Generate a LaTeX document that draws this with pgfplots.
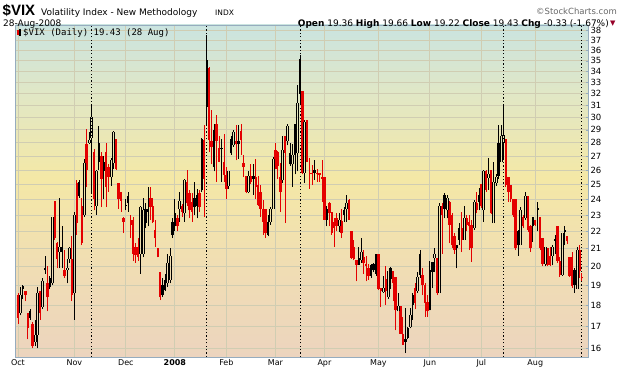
\documentclass[border=0pt]{standalone}
\usepackage{fontspec}
\setmainfont{DejaVu Sans}
\newfontfamily\mono{DejaVu Sans Mono}
\newfontfamily\arial{Liberation Sans}
\usepackage{pgfplots}
\pgfplotsset{compat=1.18}
\usepackage{pgfplotstable}

\definecolor{bgtop}{RGB}{202,228,224}
\definecolor{bggreen}{RGB}{226,231,196}
\definecolor{bgmid}{RGB}{244,232,166}
\definecolor{bgpeach}{RGB}{240,221,180}
\definecolor{bgbot}{RGB}{236,212,190}
\definecolor{gridc}{RGB}{208,205,178}
\definecolor{axc}{RGB}{150,172,190}
\definecolor{candred}{RGB}{228,0,0}
\definecolor{darkred}{RGB}{150,0,40}

\pgfdeclareverticalshading{vixbg}{100bp}{color(0bp)=(bgbot); color(25bp)=(bgbot); color(38bp)=(bgpeach); color(52bp)=(bgmid); color(64bp)=(bggreen); color(75bp)=(bgtop); color(100bp)=(bgtop)}

\pgfplotstableread[row sep=\\]{
i o h l c\\
0 18.5 18.6 17.1 17.4\\
3 18.7 18.7 18.2 18.5\\
4 17.6 17.6 16.4 16.9\\
6 17.1 17.2 16.0 16.1\\
9 18.7 18.7 17.3 17.6\\
12 19.1 20.0 17.7 18.4\\
15 23.9 23.9 21.5 21.6\\
16 21.3 21.4 19.9 20.4\\
19 19.8 20.9 19.4 19.5\\
22 20.4 21.7 18.2 18.5\\
24 25.1 25.3 21.8 22.5\\
26 23.6 24.1 21.2 21.3\\
28 27.9 29.1 24.8 26.0\\
31 27.3 27.5 23.3 24.0\\
34 27.0 27.3 23.5 25.4\\
36 27.3 28.0 23.5 24.85\\
37 26.2 26.4 24.5 25.5\\
40 28.3 28.3 26.0 26.1\\
41 25.1 25.1 23.4 24.0\\
42 24.5 24.5 23.2 23.9\\
43 22.8 22.9 21.9 22.6\\
46 22.7 23.0 21.6 22.4\\
47 22.7 22.9 20.3 20.7\\
48 21.1 21.3 20.2 20.65\\
49 21.1 21.6 20.3 20.5\\
54 24.1 24.85 22.7 23.5\\
55 23.6 24.1 22.5 22.6\\
56 22.1 22.7 21.1 21.6\\
57 21.0 21.0 20.5 20.5\\
58 19.7 19.7 18.25 18.4\\
65 22.8 23.0 22.0 22.3\\
67 23.6 23.7 22.9 23.2\\
69 25.2 26.0 23.6 23.75\\
70 24.4 24.6 22.8 23.3\\
71 23.85 24.4 22.6 23.2\\
74 24.4 24.6 23.2 23.5\\
76 28.2 29.4 22.9 25.4\\
78 34.3 34.4 27.3 28.2\\
79 28.1 30.6 26.4 27.7\\
81 29.5 30.2 25.2 28.1\\
82 27.6 28.5 26.6 26.6\\
84 26.6 28.7 25.2 25.65\\
85 25.65 26.2 24.0 24.7\\
89 28.1 29.4 26.7 27.9\\
91 28.9 29.5 27.1 28.2\\
92 26.5 27.1 25.5 26.2\\
93 25.55 25.6 24.4 24.5\\
95 25.55 26.4 25.05 25.2\\
97 25.5 26.8 24.0 24.8\\
98 24.95 25.6 23.55 23.65\\
99 24.5 24.95 22.9 23.4\\
100 23.4 23.95 21.8 22.6\\
101 23.4 23.4 21.6 21.9\\
105 27.45 28.0 26.1 26.1\\
106 27.3 27.4 25.4 26.3\\
107 25.5 26.5 23.2 24.5\\
109 28.5 28.5 22.5 27.2\\
116 32.2 32.2 25.7 25.8\\
118 29.8 29.8 26.6 26.6\\
119 25.8 26.9 24.7 25.7\\
120 25.8 26.35 24.95 25.7\\
122 25.8 26.1 25.2 25.7\\
123 25.8 25.8 25.2 25.65\\
124 25.5 26.7 23.85 25.4\\
125 25.5 25.5 22.7 22.7\\
127 23.75 23.85 22.3 23.1\\
128 23.2 23.2 21.8 21.9\\
129 22.6 22.8 21.1 22.2\\
130 22.8 23.1 22.0 22.3\\
132 22.65 23.4 21.6 21.9\\
135 23.95 24.0 22.7 22.7\\
136 22.0 22.0 20.4 20.45\\
137 21.1 21.5 20.35 20.4\\
138 20.35 20.35 19.2 20.1\\
141 20.5 20.9 19.6 20.2\\
142 20.15 20.6 19.2 20.0\\
143 19.9 20.15 19.3 19.5\\
147 20.7 20.7 18.75 18.8\\
148 18.85 18.85 17.9 18.7\\
150 19.35 20.0 18.0 18.7\\
153 19.75 19.75 18.2 19.1\\
154 19.45 19.45 16.8 17.75\\
156 17.95 17.95 16.65 16.65\\
157 16.65 17.45 16.15 16.15\\
162 18.85 19.1 17.8 18.1\\
165 19.55 19.9 18.5 19.0\\
166 19.0 19.1 17.45 18.1\\
167 18.15 18.5 17.45 17.7\\
171 20.45 20.45 18.5 18.6\\
173 23.55 23.75 20.7 23.0\\
176 23.85 23.9 21.3 22.4\\
177 23.0 23.1 21.0 21.2\\
178 21.7 21.9 20.7 20.9\\
181 22.2 23.2 20.8 21.5\\
183 22.8 23.0 22.0 22.4\\
184 22.6 23.0 20.9 22.3\\
185 22.4 22.7 20.25 21.0\\
187 23.75 24.5 23.1 23.3\\
189 25.05 25.05 23.45 23.55\\
191 25.9 26.0 24.5 24.65\\
193 26.0 26.0 23.05 23.1\\
199 28.3 28.3 24.85 24.95\\
200 25.5 25.5 23.85 24.5\\
201 24.95 24.95 23.85 24.0\\
202 24.0 24.0 22.9 23.0\\
203 24.0 24.0 20.9 21.0\\
206 22.9 23.0 22.2 22.3\\
208 24.2 24.2 21.95 22.1\\
209 22.3 22.4 20.8 21.0\\
211 22.7 22.7 22.3 22.4\\
213 22.9 22.9 20.9 21.0\\
214 21.6 21.6 20.0 20.15\\
216 21.0 21.0 20.0 20.1\\
217 20.6 21.1 20.0 20.05\\
220 22.3 22.3 20.2 20.3\\
221 20.3 20.5 19.45 19.55\\
224 21.7 21.7 21.25 21.45\\
225 20.5 20.5 19.45 19.5\\
226 20.5 20.8 18.85 18.95\\
229 20.9 21.2 19.4 19.76\\
230 19.36 19.66 19.22 19.43\\
}\redtab

\pgfplotstableread[row sep=\\]{
i o h l c\\
1 17.6 18.9 17.5 18.5\\
2 18.95 19.0 18.3 18.8\\
5 17.7 17.8 17.3 17.4\\
7 16.3 17.3 16.1 16.6\\
8 16.6 18.9 16.0 18.6\\
10 17.9 19.4 17.8 19.2\\
11 19.8 20.6 19.6 19.9\\
13 18.9 19.5 18.8 19.4\\
14 19.1 22.9 19.0 22.9\\
17 20.8 24.1 19.9 21.1\\
18 21.1 22.3 19.9 20.8\\
20 19.8 20.4 19.1 19.9\\
21 20.4 21.1 20.2 21.0\\
23 18.6 23.2 17.3 23.0\\
25 25.2 25.3 24.1 24.2\\
27 23.0 26.8 22.9 26.5\\
29 28.0 28.8 27.9 28.2\\
30 28.4 31.1 24.4 30.0\\
32 23.6 26.0 23.0 25.9\\
33 26.6 29.3 26.0 28.0\\
35 26.6 27.0 24.0 25.9\\
38 25.5 26.9 24.9 26.7\\
39 26.5 28.9 26.1 28.8\\
44 23.65 24.0 23.3 23.55\\
45 24.2 24.5 23.2 23.75\\
50 20.7 23.6 19.6 23.5\\
51 20.7 24.1 20.5 23.3\\
52 23.4 23.75 22.2 22.5\\
53 23.4 24.85 22.3 23.2\\
59 19.0 19.4 18.4 18.5\\
60 19.3 19.6 18.7 18.75\\
61 19.1 20.7 18.9 20.2\\
62 19.3 21.0 19.1 20.6\\
63 22.6 22.8 21.6 21.8\\
64 22.3 24.0 22.0 23.1\\
66 23.4 24.5 22.6 23.9\\
68 23.1 25.4 22.6 25.3\\
72 24.1 25.2 23.0 23.5\\
73 24.3 24.7 22.8 23.6\\
75 24.6 28.4 24.5 28.3\\
77 35.1 37.6 29.4 30.9\\
80 29.0 29.5 25.9 26.2\\
83 27.55 28.3 25.2 27.5\\
86 24.9 25.9 24.7 25.9\\
87 28.3 28.5 27.1 27.2\\
88 27.8 29.0 27.7 28.8\\
90 28.1 29.4 26.8 27.9\\
94 24.5 25.9 24.4 25.55\\
96 25.55 26.4 24.3 25.35\\
102 22.6 23.0 21.7 21.8\\
103 22.6 23.5 22.4 23.4\\
104 23.4 26.95 23.4 26.8\\
108 25.3 28.5 25.1 27.45\\
110 28.1 29.5 27.8 29.3\\
111 27.2 28.0 26.3 26.4\\
112 26.4 27.9 24.85 27.1\\
113 29.5 29.5 25.7 27.1\\
114 27.2 32.8 25.9 31.2\\
115 35.2 35.6 31.0 32.0\\
117 25.8 29.8 25.1 29.6\\
121 26.0 26.7 25.3 25.8\\
126 23.4 23.6 22.3 22.7\\
131 22.3 23.1 21.95 22.7\\
133 23.3 23.5 22.6 23.0\\
134 23.4 24.3 22.6 23.75\\
139 20.45 21.1 20.1 20.1\\
140 20.35 21.6 20.2 20.8\\
144 20.05 20.15 19.4 19.5\\
145 20.15 20.2 19.7 19.8\\
146 20.7 20.7 19.5 19.6\\
149 18.65 19.5 18.6 18.85\\
151 18.4 19.75 18.3 19.75\\
152 19.9 19.95 18.8 19.35\\
155 17.7 18.6 17.7 17.95\\
158 16.4 17.85 15.8 16.3\\
159 16.9 16.97 16.4 16.45\\
160 16.95 17.85 16.9 17.5\\
161 18.5 18.6 17.3 18.0\\
163 18.7 19.7 18.6 19.45\\
164 20.7 20.9 19.4 19.55\\
168 17.75 20.3 17.75 19.8\\
169 20.25 20.25 18.85 19.7\\
170 20.45 21.0 19.7 20.7\\
172 18.6 23.75 18.6 23.55\\
174 24.3 24.4 22.8 23.4\\
175 23.3 24.3 22.8 24.1\\
179 21.0 21.2 19.9 21.2\\
180 22.2 22.5 21.2 21.5\\
182 21.5 23.6 21.5 22.8\\
186 22.2 23.95 22.1 23.85\\
188 24.3 24.75 23.3 23.85\\
190 23.35 26.0 22.6 25.9\\
192 25.45 26.85 24.65 25.7\\
194 22.5 26.6 22.5 25.2\\
195 25.1 25.75 24.9 25.5\\
196 28.0 29.4 25.4 25.6\\
197 26.6 29.4 26.6 28.5\\
198 28.0 31.0 26.8 28.6\\
204 22.0 22.1 20.6 21.2\\
205 21.2 23.5 21.2 23.3\\
207 22.8 24.5 22.7 24.2\\
210 22.3 22.9 21.4 22.9\\
212 23.45 23.85 22.0 23.35\\
215 20.15 21.1 20.0 21.1\\
218 20.6 21.2 20.05 21.1\\
219 21.45 21.8 20.7 21.55\\
222 19.55 21.9 19.5 21.9\\
223 22.1 22.3 21.2 21.95\\
227 19.8 19.9 18.6 19.0\\
228 18.8 21.1 18.8 20.9\\
}\blacktab

\pgfplotsset{
  bar/.style 2 args={draw=none, mark=none, forget plot,
    error bars/.cd, y dir=plus, y explicit, error mark=none,
    error bar style={draw=#1, line width=#2, solid}},
  edge/.style 2 args={draw=none, mark=none, forget plot,
    error bars/.cd, y dir=plus, y explicit, error mark=none,
    error bar style={draw=#1, line width=0.75pt, solid, xshift=#2}},
}
% one candle series: wicks, filled bodies (close below open), hollow bodies (close above open)
\newcommand{\candles}[2]{%
  \addplot[bar={#2}{0.8pt}] table[x=i, y=l, y error expr={min(\thisrow{o},\thisrow{c})-\thisrow{l}}] {#1};
  \addplot[bar={#2}{0.8pt}] table[x=i, y expr={max(\thisrow{o},\thisrow{c})}, y error expr={\thisrow{h}-max(\thisrow{o},\thisrow{c})}] {#1};
  \addplot[bar={#2}{2.4pt}] table[x=i, y expr={min(\thisrow{o},\thisrow{c})}, y error expr={\thisrow{c}>\thisrow{o} ? 0 : max(\thisrow{o}-\thisrow{c},0.07)}] {#1};
  \addplot[edge={#2}{-0.95pt}] table[x=i, y=o, y error expr={\thisrow{c}>\thisrow{o} ? \thisrow{c}-\thisrow{o} : 0}] {#1};
  \addplot[edge={#2}{0.95pt}] table[x=i, y=o, y error expr={\thisrow{c}>\thisrow{o} ? \thisrow{c}-\thisrow{o} : 0}] {#1};
}

\begin{document}
\begin{tikzpicture}
\path[use as bounding box] (0pt,0pt) rectangle (620pt,376pt);
\begin{axis}[
  at={(15.5pt,19pt)}, anchor=south west,
  scale only axis, width=572.5pt, height=332pt,
  xmin=-1, xmax=232.5,
  ymode=log, ymin=15.63, ymax=38.59,
  axis background/.style={shading=vixbg},
  axis line style={axc, line width=0.8pt},
  xtick={0,23,44,64,85,105,125,147,168,189,211},
  xticklabels={Oct,Nov,Dec,\textbf{2008},Feb,Mar,Apr,May,Jun,Jul,Aug},
  x tick style={draw=none},
  xticklabel style={font=\fontsize{8}{9}\selectfont, yshift=1pt},
  ytick={16,17,18,19,20,21,22,23,24,25,26,27,28,29,30,31,32,33,34,35,36,37,38},
  yticklabels={16,17,18,19,20,21,22,23,24,25,26,27,28,29,30,31,32,33,34,35,36,37,38},
  yminorticks=false,
  ytick pos=right, yticklabel pos=right,
  y tick style={axc, line width=0.6pt},
  major tick length=2.5pt,
  yticklabel style={font=\fontsize{8.5}{9}\selectfont, xshift=-1pt},
  grid=major,
  grid style={gridc, line width=0.9pt},
  extra x ticks={30,77,115,198,230},
  extra x tick labels={},
  extra x tick style={grid=major, major grid style={black, line width=0.8pt, dash pattern=on 1.2pt off 2.2pt}},
  clip=true,
]
\candles{\redtab}{candred}
\candles{\blacktab}{black}
\end{axis}
% header
\node[anchor=base west, inner sep=0pt, font=\arial\bfseries\fontsize{15}{15}\selectfont] at (2.5pt,361pt) {\$VIX};
\node[anchor=base west, inner sep=0pt, font=\fontsize{9}{9}\selectfont] at (41pt,361pt) {Volatility Index - New Methodology};
\node[anchor=base west, inner sep=0pt, font=\fontsize{7.5}{8}\selectfont] at (215pt,361pt) {INDX};
\node[anchor=base east, inner sep=0pt, font=\fontsize{8.5}{9}\selectfont, text=black!60] at (617pt,362pt) {©StockCharts.com};
\node[anchor=base west, inner sep=0pt, font=\fontsize{9}{9}\selectfont] at (3pt,350pt) {28-Aug-2008};
\node[anchor=base east, inner sep=0pt, font=\fontsize{9}{9}\selectfont] at (609pt,350pt)
  {\textbf{Open} 19.36 \textbf{High} 19.66 \textbf{Low} 19.22 \textbf{Close} 19.43 \textbf{Chg} -0.33 (-1.67\%)};
\node[anchor=base west, inner sep=0pt, font=\fontsize{7}{8}\selectfont, text=darkred] at (610pt,351pt) {▼};
% legend
\fill[candred] (17pt,341pt) rectangle (18.6pt,346.5pt);
\fill[black] (19.4pt,340pt) rectangle (21pt,347pt);
\node[anchor=base west, inner sep=0pt, font=\mono\fontsize{9}{9}\selectfont] at (23pt,340.5pt) {\$VIX (Daily) 19.43 (28 Aug)};
\end{tikzpicture}
\end{document}
